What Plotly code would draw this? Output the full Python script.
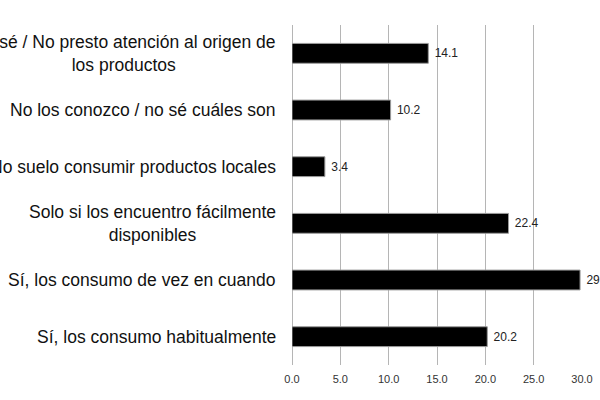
import plotly.graph_objects as go

# categories top to bottom
categories = [
    "No sé / No presto atención al origen de<br>los productos",
    "No los conozco / no sé cuáles son",
    "No suelo consumir productos locales",
    "Solo si los encuentro fácilmente<br>disponibles",
    "Sí, los consumo de vez en cuando",
    "Sí, los consumo habitualmente",
]
values = [14.1, 10.2, 3.4, 22.4, 29.8, 20.2]
x_ticks = [0, 5, 10, 15, 20, 25, 30]
x_tick_labels = ["0.0", "5.0", "10.0", "15.0", "20.0", "25.0", "30.0"]

fig = go.Figure(go.Bar(
    x=values,
    y=categories,
    orientation="h",
    marker=dict(color="black", line=dict(color="#9a9a9a", width=1)),
    width=0.35,
    text=[" %.1f" % v for v in values],
    textposition="outside",
    textfont=dict(family="Liberation Sans, Arial", size=12, color="#222"),
    cliponaxis=False,
))

# category labels as annotations so they can be centred on two lines
for c in categories:
    fig.add_annotation(
        x=0, xref="paper", y=c, yref="y",
        text=c, showarrow=False,
        xanchor="right", align="center", xshift=-14,
        font=dict(family="Liberation Sans, Arial", size=17.5, color="#111"),
    )

fig.update_layout(
    width=600, height=400,
    margin=dict(l=292, r=18, t=25, b=35),
    paper_bgcolor="white", plot_bgcolor="white",
    showlegend=False,
    xaxis=dict(
        range=[0, 30], tickvals=x_ticks, ticktext=x_tick_labels,
        showgrid=True, gridcolor="#b5b5b5", gridwidth=1,
        zeroline=True, zerolinecolor="#b5b5b5", zerolinewidth=1,
        showline=False, ticklabelstandoff=6, automargin=False,
        tickfont=dict(family="Liberation Sans, Arial", size=11, color="#333"),
        fixedrange=True,
    ),
    yaxis=dict(
        autorange="reversed", showticklabels=False, automargin=False,
        showgrid=False, zeroline=False, showline=False, fixedrange=True,
    ),
)

# page has a default 8px body margin, drop it
fig.write_html(
    "out.html",
    config={"displayModeBar": False},
    post_script="document.body.style.margin='0';",
)
